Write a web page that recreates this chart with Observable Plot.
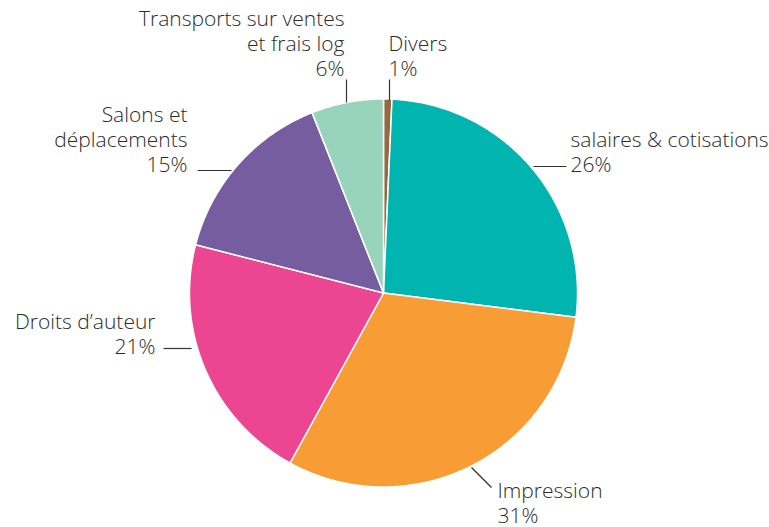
<!DOCTYPE html>
<html>
<head>
<meta charset="utf-8">
<script src="https://cdn.jsdelivr.net/npm/d3@7"></script>
<script src="https://cdn.jsdelivr.net/npm/@observablehq/plot@0.6"></script>
<style>
  html, body { margin: 0; padding: 0; background: #fff; }
  #chart { width: 769px; height: 527px; }
</style>
</head>
<body>
<div id="chart"></div>
<script>
// ---- data ----
const categories = ["Divers", "salaires & cotisations", "Impression", "Droits d’auteur", "Salons et déplacements", "Transports sur ventes et frais log"];
const values = [0.7, 26.3, 31, 21, 15, 6];
const percentLabels = ["1%", "26%", "31%", "21%", "15%", "6%"];
const labelLines = [
  ["Divers"],
  ["salaires & cotisations"],
  ["Impression"],
  ["Droits d’auteur"],
  ["Salons et", "déplacements"],
  ["Transports sur ventes", "et frais log"]
];
const colors = ["#966a40", "#00b5b0", "#f89d35", "#ec4692", "#765d9f", "#98d3bc"];

// ---- layout (pixels) ----
const W = 769, H = 527;
const cx = 383, cy = 292.5, R = 194;
const labelLayout = [
  {x: 388, y: 75,  anchor: "start", leader: [[389, 79], [389, 100]]},
  {x: 570, y: 171, anchor: "start", leader: [[533, 166], [566, 166]]},
  {x: 497, y: 522, anchor: "start", leader: [[471, 467], [491, 487]]},
  {x: 155, y: 353, anchor: "end",   leader: [[163, 348], [191, 348]]},
  {x: 187, y: 171, anchor: "end",   leader: [[197, 170], [231, 170]]},
  {x: 344, y: 75,  anchor: "end",   leader: [[346, 79], [346, 102]]}
];

// ---- geometry via d3.pie ----
const arcs = d3.pie().sort(null).value(d => d)(values);
const slicePts = [];
arcs.forEach((a, i) => {
  const cat = categories[i];
  slicePts.push({cat, x: cx, y: cy});
  const n = Math.max(2, Math.ceil((a.endAngle - a.startAngle) / (Math.PI / 360)));
  for (let k = 0; k <= n; k++) {
    const t = a.startAngle + (a.endAngle - a.startAngle) * k / n;
    slicePts.push({cat, x: cx + R * Math.sin(t), y: cy - R * Math.cos(t)});
  }
  slicePts.push({cat, x: cx, y: cy});
});

const labels = categories.map((c, i) => ({
  cat: c,
  text: [...labelLines[i], percentLabels[i]].join("\n"),
  x: labelLayout[i].x, y: labelLayout[i].y, anchor: labelLayout[i].anchor
}));
const leaders = labelLayout.map((l, i) => ({
  x1: l.leader[0][0], y1: l.leader[0][1], x2: l.leader[1][0], y2: l.leader[1][1]
}));

const FS = 21;
const textOpts = (anchor) => ({
  x: "x", y: "y", text: "text", textAnchor: anchor, lineAnchor: "bottom",
  fontSize: FS, lineHeight: 25 / FS, fill: "#2b2b2b", fontWeight: 300
});

const chart = Plot.plot({
  width: W, height: H,
  margin: 0,
  x: {domain: [0, W], range: [0, W], axis: null},
  y: {domain: [0, H], range: [0, H], axis: null},
  color: {domain: categories, range: colors},
  style: {fontFamily: "'Open Sans', Lato, sans-serif", background: "#fff"},
  marks: [
    Plot.line(slicePts, {x: "x", y: "y", z: "cat", fill: "cat", stroke: "#fff", strokeWidth: 1.5, strokeLinejoin: "round", curve: "linear"}),
    Plot.link(leaders, {x1: "x1", y1: "y1", x2: "x2", y2: "y2", stroke: "#333", strokeWidth: 1.2}),
    Plot.text(labels.filter(d => d.anchor === "start"), textOpts("start")),
    Plot.text(labels.filter(d => d.anchor === "end"), textOpts("end"))
  ]
});
document.getElementById("chart").appendChild(chart);
</script>
</body>
</html>
